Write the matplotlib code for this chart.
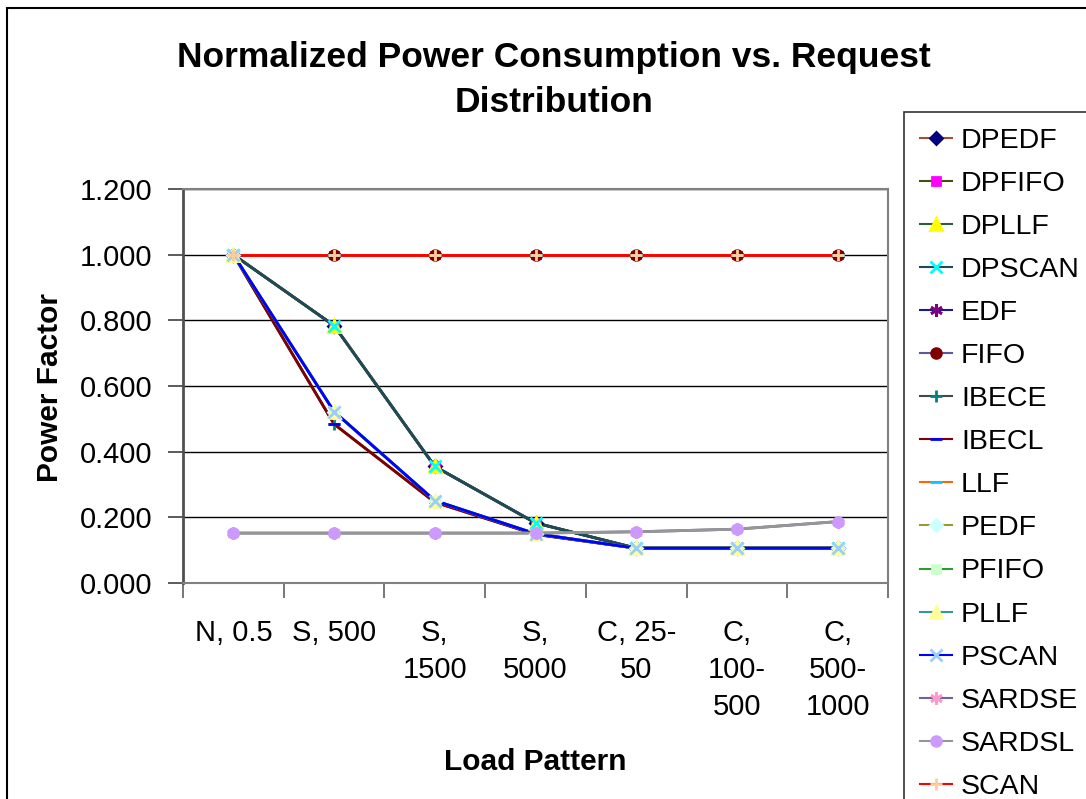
import matplotlib
matplotlib.use('Agg')
import matplotlib.pyplot as plt
from matplotlib.lines import Line2D
from matplotlib.patches import Rectangle
from matplotlib.ticker import FormatStrFormatter

plt.rcParams['font.family'] = ['Liberation Sans', 'DejaVu Sans']

# load patterns on the x axis
categories = ['N, 0.5', 'S, 500', 'S,\n1500', 'S,\n5000',
              'C, 25-\n50', 'C,\n100-\n500', 'C,\n500-\n1000']

# values
dpedf = [1.0, 0.784, 0.355, 0.183, 0.106, 0.106, 0.106]
dpfifo = [1.0, 0.784, 0.355, 0.183, 0.106, 0.106, 0.106]
dpllf = [1.0, 0.784, 0.355, 0.183, 0.106, 0.106, 0.106]
dpscan = [1.0, 0.784, 0.355, 0.183, 0.106, 0.106, 0.106]
edf = [1.0, 1.0, 1.0, 1.0, 1.0, 1.0, 1.0]
fifo = [1.0, 1.0, 1.0, 1.0, 1.0, 1.0, 1.0]
ibece = [1.0, 0.484, 0.246, 0.148, 0.106, 0.106, 0.106]
ibecl = [1.0, 0.484, 0.246, 0.148, 0.106, 0.106, 0.106]
llf = [1.0, 1.0, 1.0, 1.0, 1.0, 1.0, 1.0]
pedf = [1.0, 0.522, 0.251, 0.150, 0.106, 0.106, 0.106]
pfifo = [1.0, 0.522, 0.251, 0.150, 0.106, 0.106, 0.106]
pllf = [1.0, 0.522, 0.251, 0.150, 0.106, 0.106, 0.106]
pscan = [1.0, 0.522, 0.251, 0.150, 0.106, 0.106, 0.106]
sardse = [0.152, 0.152, 0.152, 0.152, 0.156, 0.164, 0.187]
sardsl = [0.152, 0.152, 0.152, 0.152, 0.156, 0.164, 0.187]
scan = [1.0, 1.0, 1.0, 1.0, 1.0, 1.0, 1.0]

names = ['DPEDF', 'DPFIFO', 'DPLLF', 'DPSCAN', 'EDF', 'FIFO', 'IBECE', 'IBECL',
         'LLF', 'PEDF', 'PFIFO', 'PLLF', 'PSCAN', 'SARDSE', 'SARDSL', 'SCAN']
values = [dpedf, dpfifo, dpllf, dpscan, edf, fifo, ibece, ibecl,
          llf, pedf, pfifo, pllf, pscan, sardse, sardsl, scan]

asterisk = (6, 2, 0)
# (line colour, marker, marker colour, marker size)
styles = [
    ('#a0522d', 'D', '#000080', 6),
    ('#4b4b10', 's', '#ff00ff', 6),
    ('#2f5f3a', '^', '#ffff00', 8),
    ('#1f4a5c', 'x', '#00ffff', 8),
    ('#1a1a8c', asterisk, '#800080', 9),
    ('#5a5aa0', 'o', '#800000', 7),
    ('#404848', '+', '#008080', 9),
    ('#800000', '_', '#0000ff', 8),
    ('#ff6600', '_', '#00ccff', 8),
    ('#999933', 'D', '#ccffff', 6),
    ('#339933', 's', '#ccffcc', 6),
    ('#339999', '^', '#ffff99', 8),
    ('#0000ff', 'x', '#99ccff', 8),
    ('#666699', asterisk, '#ff99cc', 9),
    ('#969696', 'o', '#cc99ff', 7),
    ('#ff0000', '+', '#ffcc99', 9),
]

W, H = 1086, 799
fig = plt.figure(figsize=(W / 100, H / 100), dpi=100)
ax = fig.add_axes([183 / W, 1 - 583 / H, (888 - 183) / W, (583 - 189) / H])

x = list(range(len(categories)))
handles = []
for name, vals, st in zip(names, values, styles):
    lc, mk, mc, ms = st
    ax.plot(x, vals, color=lc, lw=2, zorder=3)
    ax.plot(x, vals, ls='none', marker=mk, ms=ms, mfc=mc, mec=mc, mew=2, zorder=4)
    handles.append(Line2D([], [], color=lc, lw=1.5, marker=mk, ms=ms, mfc=mc, mec=mc, mew=2))

ax.set_ylim(0, 1.2)
ax.set_yticks([0, 0.2, 0.4, 0.6, 0.8, 1.0, 1.2])
ax.yaxis.set_major_formatter(FormatStrFormatter('%.3f'))
ax.set_xlim(-0.5, 6.5)
ax.set_xticks(x)
ax.set_xticklabels(categories, linespacing=1.4)
ax.set_xticks([i - 0.5 for i in range(len(categories) + 1)], minor=True)
ax.tick_params(axis='x', which='major', length=0, pad=26, labelsize=21)
ax.tick_params(axis='x', which='minor', length=11, width=1.2, color='#606060', direction='out')
ax.tick_params(axis='y', length=11, width=1.2, color='#404040', pad=11, labelsize=21)
ax.grid(axis='y', color='black', lw=1)
ax.set_axisbelow(True)
for side in ['top', 'right', 'bottom']:
    ax.spines[side].set_color('#808080')
    ax.spines[side].set_linewidth(1.5)
ax.spines['left'].set_color('#505050')
ax.spines['left'].set_linewidth(2)

fig.text(554 / W, 1 - 80 / H, 'Normalized Power Consumption vs. Request\nDistribution',
         ha='center', va='center', fontsize=25.5, fontweight='bold', linespacing=1.45)
fig.text(50 / W, 1 - 388 / H, 'Power Factor', rotation=90, ha='center', va='center',
         fontsize=21.5, fontweight='bold')
fig.text(535 / W, 1 - 762 / H, 'Load Pattern', ha='center', va='center',
         fontsize=21.5, fontweight='bold')

leg = fig.legend(handles, names, loc='upper left', bbox_to_anchor=(904 / W, 1 - 112 / H),
                 borderaxespad=0, fontsize=20.5, frameon=True, fancybox=False,
                 handlelength=1.15, handletextpad=0.3, labelspacing=0.6, borderpad=0.55)
leg.get_frame().set_edgecolor('black')
leg.get_frame().set_linewidth(1.2)

# outer chart border (cut off on right and bottom like the original)
fig.patches.append(Rectangle((7 / W, -0.1), 2, 1.1 - 8 / H, transform=fig.transFigure,
                             fill=False, ec='black', lw=1.5))

fig.savefig('out.png', dpi=100)
